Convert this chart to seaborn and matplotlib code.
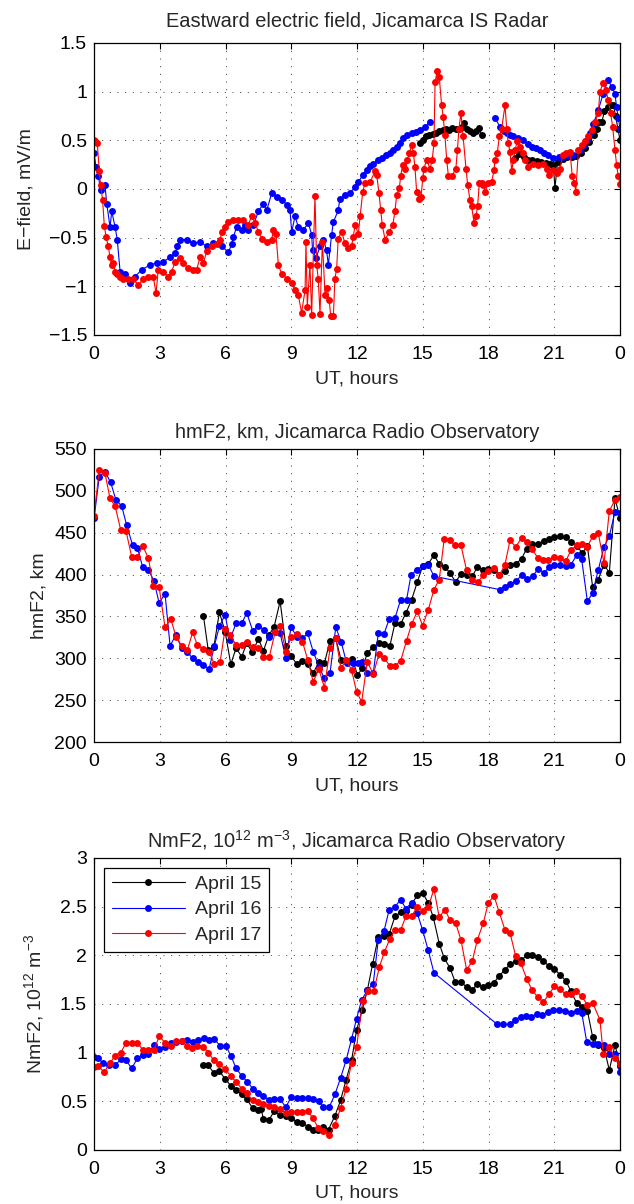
import numpy as np
import pandas as pd
import matplotlib
matplotlib.use("Agg")
import matplotlib.pyplot as plt
from matplotlib.lines import Line2D
from matplotlib.ticker import FuncFormatter
import seaborn as sns

nan = np.nan
days = ["April 15", "April 16", "April 17"]
colors = ["#000000", "#0000ff", "#ff0000"]
hour_ticks = [0, 3, 6, 9, 12, 15, 18, 21, 24]
hour_labels = ["0", "3", "6", "9", "12", "15", "18", "21", "0"]

# ---- Eastward electric field (mV/m) ----
ef15_t = [14.87, 15.0, 15.15, 15.3, 15.45, 15.6, 15.75, 15.9, 16.05, 16.2, 16.35, 16.5, 16.65, 16.8,
          16.9, 17.0, 17.15, 17.3, 17.45, 17.55, 17.7, 18.5,
          19.2, 19.4, 19.6, 19.8, 20.0, 20.2, 20.4, 20.6, 20.8, 20.95, 21.03, 21.15, 21.4, 21.6, 21.8,
          22.0, 22.2, 22.4, 22.6, 22.8, 22.93, 23.05, 23.17, 23.29, 23.45, 23.6, 23.69, 23.8, 23.9, 24.0]
ef15_v = [0.47, 0.50, 0.54, 0.55, 0.56, 0.57, 0.60, 0.61, 0.62, 0.61, 0.63, 0.62, 0.62, 0.64,
          0.68, 0.62, 0.60, 0.58, 0.60, 0.63, 0.55, nan,
          0.32, 0.36, 0.33, 0.30, 0.30, 0.29, 0.28, 0.27, 0.26, 0.25, 0.01, 0.28, 0.31, 0.33, 0.33,
          0.34, 0.37, 0.42, 0.48, 0.55, 0.62, 0.69, 0.69, 0.80, 0.84, 0.86, 0.86, 0.75, 0.62, 0.50]

ef16_t = [0.0, 0.09, 0.2, 0.3, 0.5, 0.58, 0.73, 0.81, 0.96, 1.06, 1.19, 1.41, 1.64, 1.87, 2.18, 2.55,
          2.86, 3.16, 3.47, 3.70, 3.80, 3.92, 4.23, 4.53, 4.84, 5.14, 5.44, 5.83, 6.13, 6.28, 6.36,
          6.51, 6.74, 6.89, 7.04, 7.27, 7.50, 7.73, 7.88, 8.11, 8.33, 8.56, 8.79, 8.94, 9.02, 9.17,
          9.32, 9.55, 9.78, 9.93, 9.97, 10.13, 10.31, 10.46, 10.61, 10.69, 10.84, 10.92, 11.14,
          11.22, 11.45, 11.68, 11.91, 12.06, 12.25, 12.44, 12.6, 12.74, 12.95, 13.13, 13.3, 13.50,
          13.65, 13.81, 13.95, 14.11, 14.3, 14.49, 14.7, 14.87, 15.10, 15.33, 16.8,
          18.29, 18.52, 18.7, 18.83, 19.0, 19.13, 19.35, 19.58, 19.8, 19.96, 20.15, 20.35, 20.55,
          20.72, 20.96, 21.2, 21.41, 21.65, 21.87, 22.17, 22.35, 22.48, 22.65, 22.78, 23.01, 23.23,
          23.46, 23.61, 23.77, 23.84, 23.92, 24.0]
ef16_v = [0.37, 0.23, 0.13, -0.01, 0.04, -0.15, -0.39, -0.23, -0.39, -0.52, -0.85, -0.87, -0.97,
          -0.90, -0.83, -0.78, -0.76, -0.75, -0.70, -0.66, -0.59, -0.52, -0.52, -0.56, -0.54, -0.59,
          -0.56, -0.59, -0.65, -0.57, -0.49, -0.39, -0.42, -0.37, -0.42, -0.37, -0.23, -0.15, -0.22,
          -0.04, -0.08, -0.11, -0.16, -0.22, -0.44, -0.28, -0.39, -0.42, -0.35, -0.47, -0.63, -0.71,
          -0.59, -0.52, -0.63, -0.78, -0.47, -0.34, -0.22, -0.10, -0.06, -0.04, 0.02, 0.07, 0.14,
          0.20, 0.24, 0.26, 0.30, 0.32, 0.35, 0.37, 0.40, 0.43, 0.47, 0.52, 0.55, 0.57, 0.59, 0.61,
          0.64, 0.69, nan,
          0.73, 0.64, 0.60, 0.57, 0.55, 0.54, 0.52, 0.50, 0.46, 0.43, 0.42, 0.40, 0.37, 0.35, 0.32,
          0.33, 0.33, 0.34, 0.35, 0.40, 0.45, 0.50, 0.58, 0.67, 0.81, 0.98, 1.12, 1.05, 0.98, 0.84,
          0.73, 0.62]

ef17_t = [0.0, 0.05, 0.15, 0.24, 0.3, 0.39, 0.47, 0.55, 0.65, 0.73, 0.81, 0.88, 0.96, 1.05, 1.19,
          1.34, 1.56, 1.79, 2.02, 2.25, 2.48, 2.70, 2.83, 2.93, 3.16, 3.39, 3.54, 3.70, 3.92, 4.07,
          4.30, 4.53, 4.68, 4.84, 4.99, 5.14, 5.36, 5.60, 5.75, 5.83, 5.97, 6.13, 6.36, 6.58, 6.81,
          7.04, 7.19, 7.35, 7.50, 7.65, 7.88, 8.11, 8.18, 8.30, 8.41, 8.56, 8.79, 9.02, 9.17, 9.32,
          9.47, 9.63, 9.67, 9.73, 9.85, 9.93, 10.08, 10.16, 10.23, 10.31, 10.42, 10.54, 10.64, 10.73,
          10.80, 10.92, 10.99, 11.07, 11.14, 11.30, 11.45, 11.60, 11.75, 11.83, 11.91, 12.06, 12.14,
          12.26, 12.36, 12.59, 12.82, 12.90, 13.00, 13.08, 13.15, 13.28, 13.47, 13.63, 13.73, 13.81,
          13.93, 13.99, 14.08, 14.19, 14.30, 14.39, 14.49, 14.57, 14.64, 14.72, 14.83, 14.92, 15.00,
          15.05, 15.18, 15.33, 15.43, 15.51, 15.56, 15.66, 15.75, 15.86, 15.93, 16.01, 16.09, 16.17,
          16.32, 16.51, 16.58, 16.65, 16.74, 16.84, 16.97, 17.05, 17.15, 17.23, 17.34, 17.43, 17.50,
          17.58, 17.69, 17.76, 17.84, 17.99, 18.14, 18.25, 18.29, 18.40, 18.49, 18.60, 18.75, 18.83,
          18.90, 18.98, 19.06, 19.13, 19.21, 19.31, 19.43, 19.56, 19.66, 19.81, 20.04, 20.27, 20.50,
          20.65, 20.77, 20.96, 21.14, 21.26, 21.38, 21.53, 21.72, 21.82, 21.92, 21.98, 22.10, 22.25,
          22.40, 22.55, 22.70, 22.86, 23.01, 23.08, 23.23, 23.36, 23.46, 23.57, 23.66, 23.77, 23.84,
          23.92, 24.0]
ef17_v = [0.50, 0.49, 0.47, 0.18, 0.04, -0.11, -0.38, -0.49, -0.59, -0.70, -0.78, -0.76, -0.85,
          -0.87, -0.90, -0.92, -0.93, -0.92, -0.99, -0.92, -0.90, -0.90, -1.07, -0.83, -0.85, -0.90,
          -0.85, -0.75, -0.71, -0.76, -0.81, -0.83, -0.83, -0.70, -0.76, -0.64, -0.59, -0.57, -0.52,
          -0.44, -0.39, -0.34, -0.32, -0.32, -0.32, -0.37, -0.28, -0.35, -0.44, -0.51, -0.54, -0.52,
          -0.42, -0.46, -0.78, -0.87, -0.92, -0.97, -1.04, -1.09, -1.27, -1.04, -0.54, -1.21, -0.78,
          -1.29, -0.07, -0.78, -0.93, -1.28, -0.54, -1.09, -1.02, -1.14, -1.31, -1.31, -0.92, -0.82,
          -0.51, -0.44, -0.56, -0.61, -0.59, -0.49, -0.37, -0.46, -0.28, -0.03, 0.06, 0.07, 0.18,
          0.14, -0.04, -0.22, -0.37, -0.52, -0.44, -0.37, -0.23, -0.06, 0.01, 0.13, 0.25, 0.21, 0.30,
          0.37, 0.45, 0.37, 0.23, -0.03, -0.10, -0.08, 0.11, 0.21, 0.30, 0.21, 0.30, 0.47, 1.10, 1.21,
          1.15, 0.86, 0.74, 0.55, 0.30, 0.13, 0.13, 0.21, 0.40, 0.62, 0.78, 0.54, 0.21, 0.04, -0.11,
          -0.18, -0.35, -0.28, -0.18, 0.06, 0.06, 0.04, -0.03, 0.06, 0.07, 0.19, 0.30, 0.37, 0.54,
          0.62, 0.86, 0.62, 0.47, 0.38, 0.18, 0.30, 0.40, 0.49, 0.43, 0.37, 0.30, 0.23, 0.26, 0.25,
          0.26, 0.21, 0.14, 0.20, 0.16, 0.21, 0.35, 0.37, 0.38, 0.13, 0.06, -0.03, 0.40, 0.45, 0.49,
          0.54, 0.61, 0.69, 0.78, 1.00, 1.09, 1.02, 0.91, 0.78, 0.64, 0.40, 0.25, 0.13, 0.05]

# ---- hmF2 (km) ----
hm15_t = [4.99, 5.21, 5.47, 5.72, 5.98, 6.24, 6.48, 6.74, 6.97, 7.22, 7.50, 7.73, 7.98, 8.21, 8.49,
          8.75, 8.99, 9.25, 9.51, 9.75, 10.0, 10.26, 10.51, 10.77, 11.03, 11.27, 11.53, 11.79, 12.02,
          12.24, 12.47, 12.74, 13.0, 13.24, 13.50, 13.73, 13.99, 14.23, 14.49, 14.75, 14.99, 15.25,
          15.51, 15.75, 16.01, 16.24, 16.50, 16.74, 17.0, 17.26, 17.49, 17.73, 17.99, 18.25, 18.49,
          18.75, 18.98, 19.25, 19.51, 19.74, 19.99, 20.27, 20.53, 20.77, 21.0, 21.26, 21.52, 21.76,
          22.02, 22.28, 22.51, 22.75, 23.0, 23.27, 23.51, 23.77, 24.0]
hm15_v = [351, 310, 314, 355, 332, 293, 312, 302, 318, 307, 323, 309, 328, 337, 368, 315, 303, 293,
          297, 293, 282, 296, 294, 321, 324, 298, 296, 299, 280, 288, 306, 314, 318, 317, 315, 342,
          341, 354, 370, 391, 410, 413, 423, 413, 409, 402, 391, 401, 400, 398, 409, 406, 407, 406,
          400, 404, 412, 413, 419, 431, 437, 437, 440, 442, 445, 446, 445, 439, 434, 426, 434, 385,
          394, 412, 402, 491, 467]

hm16_t = [0.0, 0.24, 0.50, 0.76, 1.0, 1.26, 1.49, 1.76, 1.98, 2.22, 2.48, 2.74, 2.97, 3.24, 3.47,
          3.74, 4.00, 4.23, 4.50, 4.76, 4.99, 5.25, 5.49, 5.72, 5.98, 6.20, 6.48, 6.74, 6.97, 7.24,
          7.50, 7.75, 8.00, 8.26, 8.49, 8.75, 8.99, 9.25, 9.51, 9.75, 10.0, 10.26, 10.51, 10.77,
          11.03, 11.27, 11.53, 11.83, 12.06, 12.21, 12.47, 12.74, 12.97, 13.23, 13.47, 13.73, 13.99,
          14.26, 14.46, 14.72, 14.99, 15.25, 15.51, 18.52, 18.75, 18.98, 19.24, 19.51, 19.76, 20.01,
          20.27, 20.53, 20.77, 21.0, 21.26, 21.52, 21.76, 22.02, 22.25, 22.51, 22.75, 23.0, 23.27,
          23.51, 23.77, 24.0]
hm16_v = [467, 517, 523, 510, 489, 482, 459, 435, 432, 409, 406, 392, 366, 377, 315, 328, 312, 308,
          300, 296, 292, 287, 315, 338, 352, 322, 342, 342, 354, 333, 339, 334, 326, 332, 330, 300,
          337, 326, 324, 330, 308, 290, 276, 283, 337, 320, 294, 294, 294, 296, 283, 282, 330, 329,
          347, 348, 370, 370, 399, 406, 410, 412, 398, 382, 385, 389, 392, 399, 395, 398, 407, 402,
          409, 412, 412, 410, 412, 423, 418, 368, 378, 405, 433, 446, 475, 474]

hm17_t = [0.0, 0.24, 0.50, 0.73, 0.96, 1.22, 1.46, 1.72, 1.98, 2.22, 2.48, 2.70, 2.97, 3.24, 3.50,
          3.74, 4.0, 4.26, 4.50, 4.71, 4.99, 5.25, 5.49, 5.75, 5.98, 6.20, 6.48, 6.74, 7.00, 7.24,
          7.50, 7.73, 8.00, 8.26, 8.49, 8.75, 8.99, 9.25, 9.51, 9.75, 10.0, 10.26, 10.51, 10.77,
          11.03, 11.27, 11.50, 11.75, 11.98, 12.21, 12.47, 12.74, 13.0, 13.24, 13.50, 13.73, 13.99,
          14.26, 14.49, 14.75, 14.99, 15.25, 15.51, 15.75, 15.98, 16.24, 16.47, 16.74, 17.0, 17.23,
          17.50, 17.76, 17.99, 18.25, 18.49, 18.75, 18.98, 19.24, 19.51, 19.74, 19.99, 20.25, 20.50,
          20.73, 21.00, 21.26, 21.52, 21.76, 22.02, 22.28, 22.51, 22.75, 23.0, 23.27, 23.51, 23.77,
          24.0]
hm17_v = [470, 525, 521, 491, 482, 453, 452, 421, 421, 434, 420, 386, 385, 337, 347, 326, 315, 310,
          331, 316, 311, 308, 293, 295, 335, 328, 316, 316, 319, 313, 312, 302, 302, 331, 339, 308,
          325, 329, 320, 298, 272, 287, 265, 312, 324, 288, 298, 286, 260, 248, 296, 281, 305, 300,
          291, 291, 297, 321, 341, 356, 339, 358, 382, 394, 443, 441, 435, 435, 405, 394, 391, 399,
          404, 408, 399, 412, 441, 433, 444, 439, 430, 420, 417, 417, 421, 420, 416, 429, 435, 437,
          433, 446, 450, 414, 476, 489, 493]

# ---- NmF2 (10^12 m^-3) ----
nm15_t = [4.95, 5.21, 5.47, 5.72, 5.98, 6.24, 6.48, 6.74, 6.97, 7.24, 7.50, 7.62, 7.73, 7.98, 8.23,
          8.49, 8.75, 8.99, 9.25, 9.51, 9.75, 9.97, 10.23, 10.46, 10.70, 10.99, 11.25, 11.50, 11.75,
          11.98, 12.24, 12.47, 12.71, 12.97, 13.23, 13.47, 13.73, 13.99, 14.23, 14.49, 14.75, 14.99,
          15.25, 15.48, 15.75, 15.98, 16.24, 16.47, 16.74, 17.0, 17.26, 17.49, 17.76, 17.99, 18.25,
          18.49, 18.75, 18.98, 19.24, 19.49, 19.74, 19.99, 20.24, 20.50, 20.76, 21.0, 21.26, 21.52,
          21.76, 22.02, 22.25, 22.51, 22.75, 23.0, 23.27, 23.51, 23.77, 24.0]
nm15_v = [0.87, 0.87, 0.79, 0.81, 0.73, 0.66, 0.62, 0.57, 0.52, 0.43, 0.41, 0.42, 0.32, 0.31, 0.40,
          0.36, 0.35, 0.33, 0.29, 0.28, 0.24, 0.21, 0.20, 0.24, 0.21, 0.35, 0.51, 0.72, 0.92, 1.23,
          1.44, 1.64, 1.91, 2.19, 2.20, 2.22, 2.40, 2.44, 2.45, 2.52, 2.62, 2.64, 2.54, 2.39, 2.12,
          1.97, 1.87, 1.73, 1.73, 1.67, 1.64, 1.71, 1.67, 1.69, 1.72, 1.79, 1.85, 1.91, 1.94, 1.95,
          2.00, 2.00, 1.98, 1.94, 1.89, 1.86, 1.80, 1.74, 1.63, 1.51, 1.47, 1.43, 1.16, 1.08, 1.05,
          0.82, 1.08, 0.86]

nm16_t = [0.0, 0.2, 0.42, 0.70, 0.96, 1.22, 1.46, 1.72, 1.98, 2.22, 2.48, 2.74, 2.97, 3.24, 3.50,
          3.74, 4.0, 4.26, 4.50, 4.76, 5.02, 5.26, 5.49, 5.75, 6.01, 6.24, 6.48, 6.74, 7.0, 7.24,
          7.50, 7.73, 8.00, 8.23, 8.49, 8.75, 8.99, 9.25, 9.51, 9.75, 10.0, 10.26, 10.46, 10.73,
          10.99, 11.25, 11.50, 11.75, 11.98, 12.21, 12.47, 12.74, 12.97, 13.23, 13.47, 13.73, 13.99,
          14.23, 14.49, 14.75, 14.99, 15.25, 15.51, 18.40, 18.67, 18.98, 19.21, 19.47, 19.71, 19.95,
          20.22, 20.46, 20.72, 20.95, 21.2, 21.47, 21.74, 22.02, 22.25, 22.48, 22.75, 23.0, 23.27,
          23.51, 23.77, 24.0]
nm16_v = [0.95, 0.94, 0.89, 0.87, 0.87, 0.93, 0.92, 0.84, 0.94, 0.98, 0.99, 1.08, 1.04, 1.06, 1.10,
          1.11, 1.12, 1.13, 1.11, 1.13, 1.15, 1.13, 1.14, 1.07, 1.07, 0.97, 0.84, 0.76, 0.70, 0.63,
          0.58, 0.55, 0.51, 0.52, 0.52, 0.44, 0.54, 0.53, 0.53, 0.53, 0.52, 0.50, 0.44, 0.44, 0.57,
          0.74, 0.92, 1.14, 1.35, 1.54, 1.64, 1.71, 2.16, 2.25, 2.47, 2.50, 2.57, 2.48, 2.54, 2.43,
          2.26, 2.05, 1.82, 1.29, 1.29, 1.29, 1.34, 1.37, 1.38, 1.37, 1.40, 1.39, 1.42, 1.44, 1.44,
          1.43, 1.41, 1.43, 1.41, 1.11, 1.09, 1.09, 1.08, 0.99, 0.99, 0.80]

nm17_t = [0.0, 0.2, 0.46, 0.73, 0.96, 1.22, 1.46, 1.72, 1.98, 2.22, 2.48, 2.74, 2.98, 3.24, 3.50,
          3.74, 4.0, 4.23, 4.46, 4.71, 4.99, 5.21, 5.47, 5.72, 5.98, 6.24, 6.48, 6.74, 6.97, 7.24,
          7.50, 7.73, 7.98, 8.23, 8.49, 8.75, 8.99, 9.25, 9.51, 9.75, 9.97, 10.23, 10.46, 10.73,
          10.99, 11.25, 11.50, 11.75, 11.98, 12.26, 12.51, 12.76, 13.02, 13.24, 13.50, 13.73, 13.99,
          14.23, 14.49, 14.75, 14.99, 15.25, 15.51, 15.75, 16.01, 16.24, 16.50, 16.74, 17.0, 17.26,
          17.49, 17.76, 17.99, 18.25, 18.49, 18.75, 18.98, 19.24, 19.47, 19.74, 19.99, 20.25, 20.50,
          20.76, 21.0, 21.26, 21.52, 21.76, 21.99, 22.25, 22.51, 22.75, 23.08, 23.23, 23.51, 23.77,
          24.0]
nm17_v = [0.85, 0.86, 0.80, 0.89, 0.97, 1.00, 1.10, 1.10, 1.10, 1.03, 1.03, 1.03, 1.17, 1.10, 1.07,
          1.12, 1.12, 1.07, 1.05, 1.07, 1.06, 1.00, 0.92, 0.88, 0.83, 0.76, 0.70, 0.63, 0.58, 0.51,
          0.49, 0.47, 0.45, 0.44, 0.42, 0.38, 0.39, 0.39, 0.39, 0.40, 0.33, 0.23, 0.19, 0.15, 0.26,
          0.43, 0.63, 0.89, 1.06, 1.53, 1.63, 1.63, 1.88, 2.03, 2.17, 2.26, 2.26, 2.40, 2.40, 2.50,
          2.46, 2.50, 2.68, 2.39, 2.47, 2.36, 2.33, 2.16, 1.85, 1.94, 2.16, 2.33, 2.54, 2.61, 2.44,
          2.26, 2.23, 1.99, 1.92, 1.76, 1.64, 1.57, 1.52, 1.60, 1.68, 1.65, 1.60, 1.60, 1.63, 1.58,
          1.49, 1.51, 1.34, 0.99, 1.06, 0.94, 0.88]


def long_frame(series):
    parts = []
    for day, (t, v) in zip(days, series):
        v = np.asarray(v, dtype=float)
        seg = np.cumsum(np.isnan(v))
        d = pd.DataFrame({"hour": t, "value": v, "day": day,
                          "unit": [f"{day}-{s}" for s in seg]})
        parts.append(d.dropna())
    return pd.concat(parts, ignore_index=True)


panels = [
    dict(df=long_frame([(ef15_t, ef15_v), (ef16_t, ef16_v), (ef17_t, ef17_v)]),
         title="Eastward electric field, Jicamarca IS Radar", ylabel="E\u2212field, mV/m",
         ylim=(-1.5, 1.5), yticks=np.arange(-1.5, 1.51, 0.5), tpad=12, ypad=10,
         rect=[0.1483, 0.7218, 0.8297, 0.2425]),
    dict(df=long_frame([(hm15_t, hm15_v), (hm16_t, hm16_v), (hm17_t, hm17_v)]),
         title="hmF2, km, Jicamarca Radio Observatory", ylabel="hmF2, km",
         ylim=(200, 550), yticks=np.arange(200, 551, 50), tpad=8, ypad=5,
         rect=[0.1483, 0.3837, 0.8297, 0.2434]),
    dict(df=long_frame([(nm15_t, nm15_v), (nm16_t, nm16_v), (nm17_t, nm17_v)]),
         title="NmF2, 10$^{12}$ m$^{-3}$, Jicamarca Radio Observatory",
         ylabel="NmF2, 10$^{12}$ m$^{-3}$",
         ylim=(0, 3), yticks=np.arange(0, 3.01, 0.5), tpad=7, ypad=10,
         rect=[0.1483, 0.0449, 0.8297, 0.2425]),
]

sns.set_style("white")
plt.rcParams["font.family"] = ["Liberation Sans", "DejaVu Sans"]
plt.rcParams["mathtext.fontset"] = "custom"
plt.rcParams["mathtext.rm"] = "Liberation Sans"
plt.rcParams["mathtext.it"] = "Liberation Sans:italic"
plt.rcParams["axes.unicode_minus"] = True

fs = 14
ms = 5.0
fig = plt.figure(figsize=(6.34, 12.04), dpi=100)
fmt = FuncFormatter(lambda v, p: ("%g" % round(v, 3)).replace("-", "\u2212"))

for p in panels:
    ax = fig.add_axes(p["rect"])
    df = p["df"]
    for day, c in zip(days, colors):
        sub = df[df["day"] == day]
        sns.lineplot(data=sub, x="hour", y="value", units="unit", estimator=None, sort=False,
                     color=c, marker="o", markersize=ms, markeredgewidth=0,
                     linewidth=0.8, legend=False, ax=ax)
    ax.set_xlim(0, 24)
    ax.set_ylim(*p["ylim"])
    ax.set_xticks(hour_ticks)
    ax.set_xticklabels(hour_labels)
    ax.set_yticks(p["yticks"])
    ax.yaxis.set_major_formatter(fmt)
    ax.tick_params(direction="in", length=4, width=0.8, top=True, right=True,
                   labelsize=fs, colors="k")
    ax.tick_params(axis="x", pad=8)
    ax.tick_params(axis="y", pad=5)
    ax.grid(True, color="#222222", linestyle=(0, (1.2, 8)), linewidth=0.6)
    for s in ax.spines.values():
        s.set_color("k")
        s.set_linewidth(0.9)
    ax.set_title(p["title"], fontsize=14.4, pad=p["tpad"])
    ax.set_xlabel("UT, hours", fontsize=fs, labelpad=5)
    ax.set_ylabel(p["ylabel"], fontsize=fs, labelpad=p["ypad"])

handles = [Line2D([0], [0], color=c, marker="o", markersize=ms, markeredgewidth=0, linewidth=0.8)
           for c in colors]
leg = ax.legend(handles, days, loc="upper left", fontsize=fs, handlelength=3.8,
                fancybox=False, framealpha=1, edgecolor="k", borderpad=0.4,
                labelspacing=0.4, handletextpad=0.5, borderaxespad=0.5)
leg.get_frame().set_linewidth(0.9)

fig.savefig("out.png", dpi=100)
